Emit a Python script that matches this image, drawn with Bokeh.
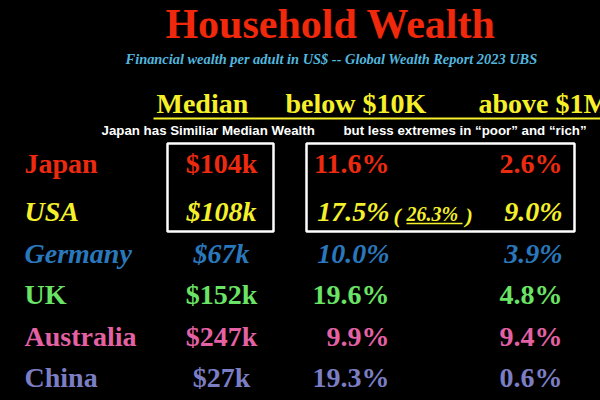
from bokeh.plotting import figure
from bokeh.models import ColumnDataSource, Range1d
from bokeh.core.properties import value, field
from bokeh.embed import file_html
from bokeh.resources import INLINE

# ---- data ----
countries = ["Japan", "USA", "Germany", "UK", "Australia", "China"]
median_k = [104, 108, 67, 152, 247, 27]
below_10k_pct = [11.6, 17.5, 10.0, 19.6, 9.9, 19.3]
above_1m_pct = [2.6, 9.0, 3.9, 4.8, 9.4, 0.6]
usa_alt_below_pct = 26.3
column_headers = ["Median", "below $10K", "above $1M"]
title_text = "Household Wealth"
subtitle_text = "Financial wealth per adult in US$ -- Global Wealth Report 2023 UBS"
note_left = "Japan has Similiar Median Wealth"
note_right = "but less extremes in \u201cpoor\u201d and \u201crich\u201d"

# ---- styles ----
row_colors = ["#ec2a10", "#f4f02c", "#2a78bc", "#6ae466", "#e462a4", "#7c7ec4"]
row_styles = ["bold", "bold italic", "bold italic", "bold", "bold", "bold"]
SERIF = value("Liberation Serif")
SANS = value("Liberation Sans")
K = 0.34  # shift of the drawn baseline below the anchor, per font-size px

def by(baseline, size):
    return baseline - K * size

W, H = 600, 400
p = figure(width=W, height=H, output_backend="svg", toolbar_location=None,
           x_range=Range1d(0, W), y_range=Range1d(H, 0),
           min_border=0, background_fill_color="black", border_fill_color="black",
           outline_line_color=None)
p.axis.visible = False
p.grid.visible = False

# row layout (baselines)
row_step = 41.5
first_y = 179.5
ys = [first_y + row_step * i - (6.5 if i == 0 else 0) for i in range(len(countries))]
RS = 28

src = ColumnDataSource(dict(
    country=countries,
    med=[f"${m}k" for m in median_k],
    below=[f"{v:.1f}%" for v in below_10k_pct],
    above=[f"{v:.1f}%" for v in above_1m_pct],
    ty=[by(y, RS) for y in ys], color=row_colors, style=row_styles,
))

common = dict(source=src, text_color="color", text_font=SERIF, text_font_size=f"{RS}px",
              text_font_style=field("style"), text_baseline="alphabetic")
p.text(x=24, y="ty", text="country", text_align="left", **common)
p.text(x=221, y="ty", text="med", text_align="center", **common)
p.text(x=389, y="ty", text="below", text_align="right", **common)
p.text(x=562, y="ty", text="above", text_align="right", **common)

# USA alternative value in parentheses
usa_i = countries.index("USA")
uy = ys[usa_i]
ycol = row_colors[usa_i]
p.text(x=[393, 465], y=[by(uy + 1, 22)] * 2, text=["(", ")"], text_color=ycol, text_font=SERIF,
       text_font_size="22px", text_font_style="bold italic", text_baseline="alphabetic", text_align="left")
p.text(x=[406], y=[by(uy - 1, 20)], text=[f"{usa_alt_below_pct:.1f}%"], text_color=ycol, text_font=SERIF,
       text_font_size="20px", text_font_style="bold italic", text_baseline="alphabetic", text_align="left")
p.segment(x0=[406], y0=[uy + 2], x1=[462], y1=[uy + 2], line_color=ycol, line_width=1.5)

# boxes around Japan/USA rows
top = ys[0] - 30
bot = ys[1] + 10
p.quad(left=[167, 306], right=[273, 574], top=[top, top], bottom=[bot, bot],
       fill_color=None, line_color="white", line_width=2.5)

# title & subtitle
p.text(x=[330], y=[by(38, 42)], text=[title_text], text_color="#f0280c", text_font=SERIF,
       text_font_size="42px", text_font_style="bold", text_baseline="alphabetic", text_align="center")
p.text(x=[331], y=[by(63, 14.4)], text=[subtitle_text], text_color="#52b6de", text_font=SERIF,
       text_font_size="14.4px", text_font_style="bold italic", text_baseline="alphabetic", text_align="center")

# column headers
hx = [156, 285, 478]
p.text(x=hx, y=[by(113, 28)] * 3, text=column_headers, text_color="#f6f02a", text_font=SERIF,
       text_font_size="28px", text_font_style="bold", text_baseline="alphabetic", text_align="left")
p.segment(x0=[153], y0=[118], x1=[600], y1=[118], line_color="#f6f02a", line_width=2)

# notes
p.text(x=[101, 343], y=[by(135, 13.3)] * 2, text=[note_left, note_right], text_color="white", text_font=SANS,
       text_font_size="13.3px", text_font_style="bold", text_baseline="alphabetic", text_align="left")

html = file_html(p, INLINE)
html = html.replace("</head>", "<style>html,body{background:#000;}</style></head>", 1)
open("out.html", "w").write(html)
